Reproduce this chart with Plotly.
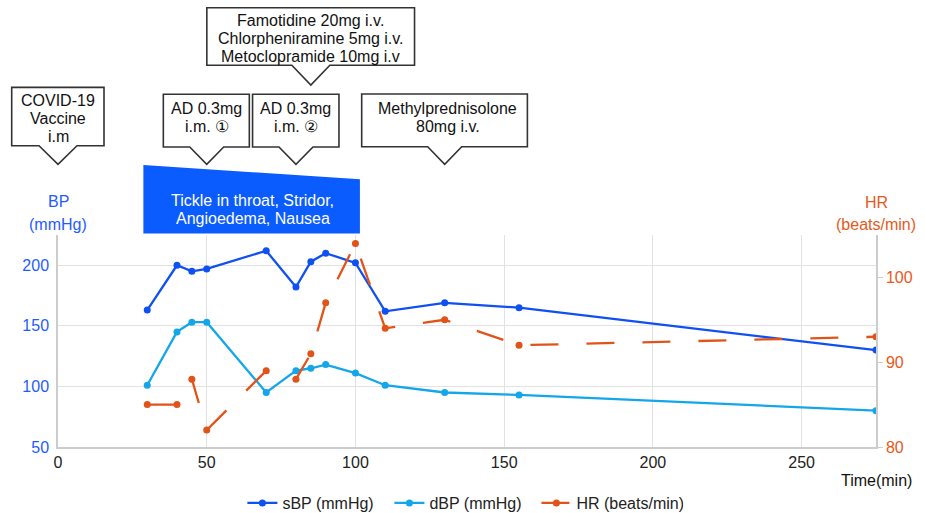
import plotly.graph_objects as go

# ---------------- data ----------------
time_min = [30, 40, 45, 50, 70, 80, 85, 90, 100, 110, 130, 155, 275]
sbp = [163, 200, 195, 197, 212, 182, 203, 210, 202, 162, 169, 165, 130]
dbp = [101, 145, 153, 153, 95, 113, 115, 118, 111, 101, 95, 93, 80]
hr = [85, 85, 88, 82, 89, 88, 91, 97, 104, 94, 95, 92, 93]

x_ticks = [0, 50, 100, 150, 200, 250]
bp_ticks = [50, 100, 150, 200]
hr_ticks = [80, 90, 100]

# events (time in min) and their callout texts
event_times = [0, 50, 80, 85, 130]
event_texts = [
    ["COVID-19", "Vaccine", "i.m"],
    ["AD 0.3mg", "i.m. ①"],
    ["AD 0.3mg", "i.m. ②"],
    ["Famotidine 20mg i.v.", "Chlorpheniramine 5mg i.v.", "Metoclopramide 10mg i.v"],
    ["Methylprednisolone", "80mg i.v."],
]
symptom_start, symptom_end = 28.7, 101.5
symptom_text = ["Tickle in throat, Stridor,", "Angioedema, Nausea"]

# ---------------- style ----------------
FONT = "Liberation Sans, Arial, sans-serif"
C_SBP = "#0f50f2"
C_DBP = "#14a6ea"
C_HR = "#e2531a"
C_BANNER = "#0a5cff"
C_BP_TXT = "#1f5cff"
C_HR_TXT = "#e8591a"
GRID = "#e2e2e2"
AXLINE = "#cccccc"

W, H = 925, 513
ML, MR, MT, MB = 58, 49, 235, 66
PH = H - MT - MB
X_RANGE = [0, 275]


def py(p):
    """pixel row -> paper y"""
    return (H - MB - p) / PH


def px(t):
    """time -> paper x (axis range is linear)"""
    return (t - X_RANGE[0]) / (X_RANGE[1] - X_RANGE[0])


fig = go.Figure()
fig.add_trace(go.Scatter(x=time_min, y=sbp, name="sBP (mmHg)", mode="lines+markers",
                         line=dict(color=C_SBP, width=2.3), marker=dict(size=7, color=C_SBP)))
fig.add_trace(go.Scatter(x=time_min, y=dbp, name="dBP (mmHg)", mode="lines+markers",
                         line=dict(color=C_DBP, width=2.3), marker=dict(size=7, color=C_DBP)))
fig.add_trace(go.Scatter(x=time_min, y=hr, name="HR (beats/min)", mode="lines+markers", yaxis="y2",
                         line=dict(color=C_HR, width=2.3, dash="28px,28px"),
                         marker=dict(size=7, color=C_HR)))

shapes = []
annotations = []

# callout boxes: (left, right, bottom-above-tip, top-above-tip, half-width of notch, tip row, text rows)
callout_geom = [
    (-46.3, 46.0, 18.6, 76.9, 19, 164.3, [100.0, 118.3, 136.7], 0),
    (-43.4, 42.6, 17.3, 70.0, 17, 164.3, [108.3, 126.7], 0),
    (-43.4, 43.0, 17.3, 70.0, 17, 164.3, [108.3, 126.7], 0),
    (-104.0, 103.7, 19.7, 77.3, 19, 85.0, [20.0, 38.3, 56.8], 0),
    (-83.0, 82.7, 17.6, 70.3, 17, 164.3, [108.3, 126.7], 3),
]
for t, lines, (L, R, hb, ht, w, tip, rows, xs) in zip(event_times, event_texts, callout_geom):
    path = (f"M {L},{hb} L {-w},{hb} L 0,0 L {w},{hb} L {R},{hb} "
            f"L {R},{ht} L {L},{ht} Z")
    shapes.append(dict(type="path", xref="paper", yref="paper", xsizemode="pixel", ysizemode="pixel",
                       xanchor=px(t), yanchor=py(tip), path=path, fillcolor="white",
                       line=dict(color="#333333", width=1.6), layer="above"))
    for txt, r in zip(lines, rows):
        annotations.append(dict(x=px(t), xref="paper", y=py(r), yref="paper", text=txt,
                                showarrow=False, xanchor="center", yanchor="middle", xshift=xs,
                                font=dict(family=FONT, size=16, color="#111111")))

# symptom banner
shapes.append(dict(type="path", xref="x", yref="paper",
                   path=(f"M {symptom_start},{py(233.5)} L {symptom_start},{py(165)} "
                         f"L {symptom_end},{py(179.3)} L {symptom_end},{py(233.5)} Z"),
                   fillcolor=C_BANNER, line=dict(width=0), layer="above"))
mid = (symptom_start + symptom_end) / 2
for txt, r in zip(symptom_text, [200.0, 218.3]):
    annotations.append(dict(x=mid, xref="x", y=py(r), yref="paper", text=txt, showarrow=False,
                            xanchor="center", yanchor="middle", xshift=1,
                            font=dict(family=FONT, size=16, color="white")))

# axis titles
for txt, r in zip(["BP", "(mmHg)"], [201.3, 224.3]):
    annotations.append(dict(x=0, xref="paper", y=py(r), yref="paper", text=txt, showarrow=False,
                            xanchor="center", yanchor="middle",
                            font=dict(family=FONT, size=16, color=C_BP_TXT)))
for txt, r in zip(["HR", "(beats/min)"], [202.7, 225.0]):
    annotations.append(dict(x=1, xref="paper", y=py(r), yref="paper", text=txt, showarrow=False,
                            xanchor="center", yanchor="middle",
                            font=dict(family=FONT, size=16, color=C_HR_TXT)))
annotations.append(dict(x=1, xref="paper", y=py(480), yref="paper", text="Time(min)",
                        showarrow=False, xanchor="center", yanchor="middle",
                        font=dict(family=FONT, size=16, color="#111111")))

fig.update_layout(
    width=W, height=H,
    margin=dict(l=ML, r=MR, t=MT, b=MB, pad=0, autoexpand=False),
    paper_bgcolor="white", plot_bgcolor="white",
    font=dict(family=FONT, size=16, color="#222222"),
    showlegend=True,
    legend=dict(orientation="h", x=0.495, xanchor="center",
                yref="container", y=(H - 503) / H, yanchor="middle",
                font=dict(family=FONT, size=16, color="#222222"),
                entrywidth=102, entrywidthmode="pixels",
                bgcolor="rgba(0,0,0,0)", tracegroupgap=0),
    xaxis=dict(range=X_RANGE, tickvals=x_ticks, showgrid=True, gridcolor=GRID, gridwidth=1.2,
               zeroline=False, showline=True, linecolor=AXLINE, linewidth=1.5, ticks="",
               tickfont=dict(family=FONT, size=16, color="#222222"), fixedrange=True),
    yaxis=dict(range=[50, 225], tickvals=bp_ticks, showgrid=True, gridcolor=GRID, gridwidth=1.2,
               zeroline=False, showline=True, linecolor=AXLINE, linewidth=1.5, ticks="",
               ticklabelstandoff=4,
               tickfont=dict(family=FONT, size=16, color=C_BP_TXT)),
    yaxis2=dict(range=[80, 105], tickvals=hr_ticks, overlaying="y", side="right", showgrid=False,
                zeroline=False, showline=True, linecolor=AXLINE, linewidth=1.5,
                ticks="outside", ticklen=5, tickcolor=AXLINE,
                tickfont=dict(family=FONT, size=16, color=C_HR_TXT)),
    shapes=shapes,
    annotations=annotations,
)

fig.write_html("out.html", config={"displayModeBar": False},
               post_script="document.body.style.margin='0';")
